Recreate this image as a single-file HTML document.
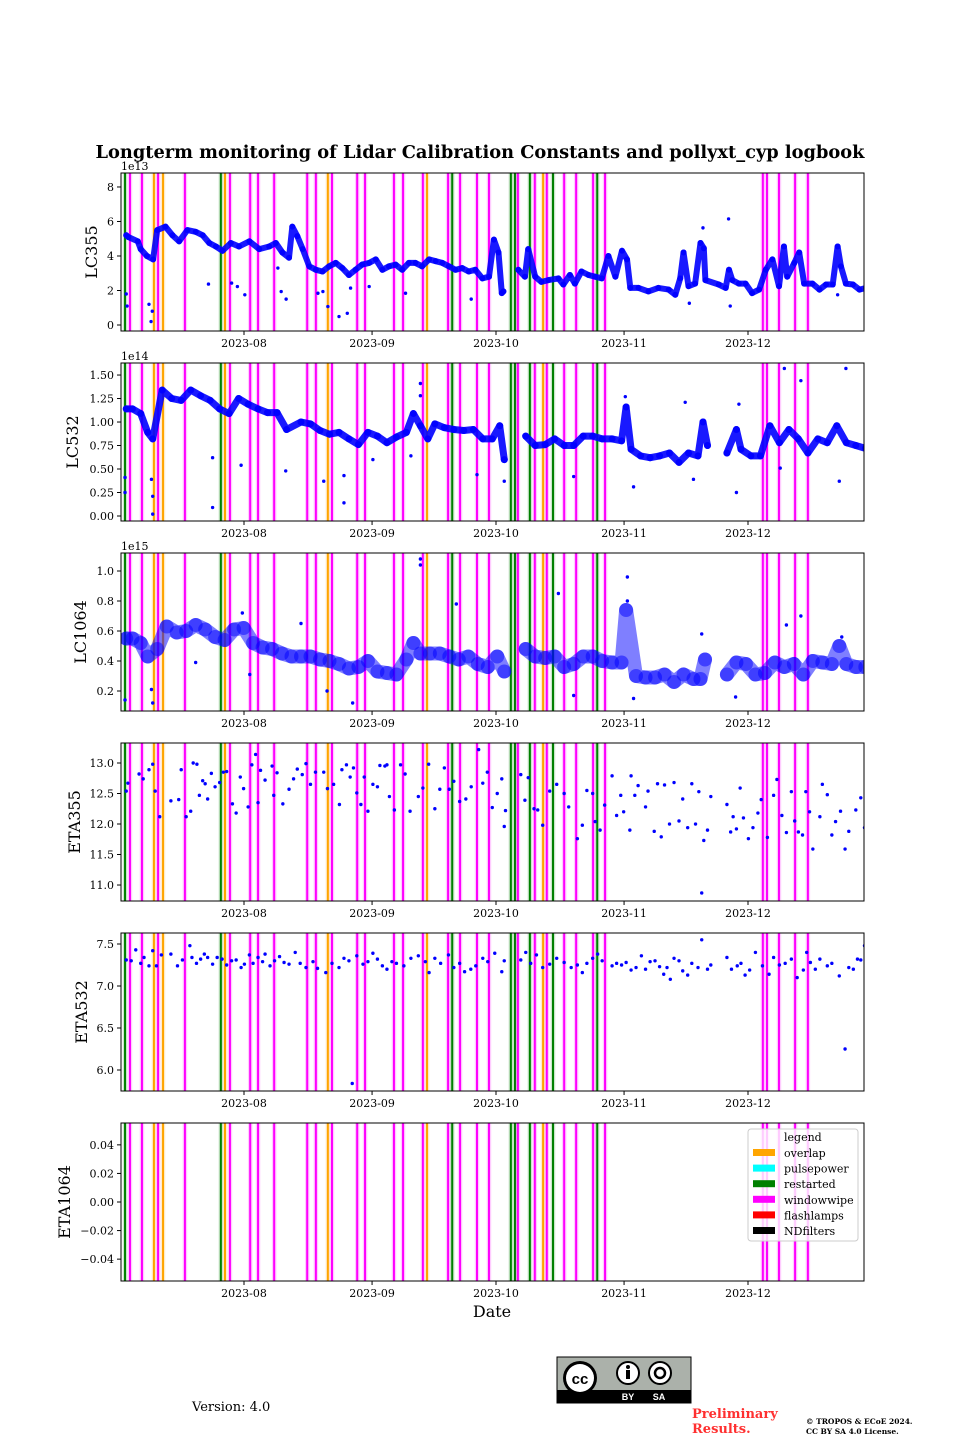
<!DOCTYPE html>
<html>
<head>
<meta charset="utf-8">
<style>
  html,body{margin:0;padding:0;background:#fff;}
  svg{display:block;}
  text{font-family:"DejaVu Serif","Liberation Serif",serif;}
</style>
</head>
<body>
<svg id="chart" width="960" height="1440" viewBox="0 0 960 1440" xmlns="http://www.w3.org/2000/svg">
  <text x="480" y="158" text-anchor="middle" font-size="17.8" font-weight="bold">Longterm monitoring of Lidar Calibration Constants and pollyxt_cyp logbook</text>
  <g id="panels"></g>
  <text x="492" y="1317" text-anchor="middle" font-size="16">Date</text>

  <g id="legend">
    <rect x="748" y="1129" width="110" height="112" rx="3" fill="#fff" fill-opacity="0.8" stroke="#ccc" stroke-width="1"/>
    <text x="784" y="1141" font-size="11">legend</text>
  </g>

  <g>
    <rect x="557" y="1357" width="134" height="46" fill="#abb1aa" stroke="#000" stroke-width="1"/>
    <rect x="557" y="1390" width="134" height="13" fill="#000"/>
    <circle cx="580" cy="1378" r="17" fill="#000"/>
    <circle cx="580" cy="1378" r="14" fill="#fff"/>
    <text x="580" y="1384" text-anchor="middle" font-size="15" font-weight="bold" style="font-family:'Liberation Sans',sans-serif">cc</text>
    <circle cx="628" cy="1373" r="11" fill="#fff" stroke="#000" stroke-width="2"/>
    <circle cx="628" cy="1367" r="2" fill="#000"/>
    <rect x="626" y="1370" width="4" height="9" fill="#000"/>
    <circle cx="660" cy="1373" r="11" fill="#fff" stroke="#000" stroke-width="2"/>
    <circle cx="660" cy="1373" r="5" fill="none" stroke="#000" stroke-width="2.5"/>
    <text x="628" y="1400" text-anchor="middle" font-size="9" fill="#fff" font-weight="bold" style="font-family:'Liberation Sans',sans-serif">BY</text>
    <text x="659" y="1400" text-anchor="middle" font-size="9" fill="#fff" font-weight="bold" style="font-family:'Liberation Sans',sans-serif">SA</text>
  </g>
  <text x="192" y="1411" font-size="13">Version: 4.0</text>
  <text x="692" y="1418" font-size="13" font-weight="bold" fill="#ff3030">Preliminary</text>
  <text x="692" y="1433" font-size="13" font-weight="bold" fill="#ff3030">Results.</text>
  <text x="806" y="1424" font-size="7.5" font-weight="bold">© TROPOS &amp; ECoE 2024.</text>
  <text x="806" y="1434" font-size="7.5" font-weight="bold">CC BY SA 4.0 License.</text>
</svg>
<script>
// ---------- data (days since 2023-07-01 00:00) ----------
const monthTickDays = [31, 62, 92, 123, 153];
const monthTickLabels = ["2023-08","2023-09","2023-10","2023-11","2023-12"];

const eventDays = [2.2,3.4,6.3,9.2,10.2,11.4,16.7,25.4,26.4,27.6,32.5,34.4,38.3,46.3,48.4,51.3,52.3,58.4,60.3,67.3,69.5,74.3,75.3,80.4,81.4,83.3,87.4,90.3,95.6,96.6,97.3,100.2,101.4,103.4,104.3,105.8,108.5,111.4,115.5,116.5,118.4,156.6,157.6,160.5,164.4,167.5];
const eventTypes = ["restarted","windowwipe","windowwipe","overlap","windowwipe","overlap","windowwipe","restarted","overlap","windowwipe","windowwipe","windowwipe","windowwipe","windowwipe","windowwipe","overlap","windowwipe","windowwipe","windowwipe","windowwipe","windowwipe","windowwipe","overlap","windowwipe","restarted","windowwipe","windowwipe","windowwipe","restarted","restarted","windowwipe","restarted","windowwipe","overlap","windowwipe","restarted","windowwipe","windowwipe","windowwipe","restarted","windowwipe","windowwipe","windowwipe","windowwipe","windowwipe","windowwipe"];

const legendNames = ["overlap","pulsepower","restarted","windowwipe","flashlamps","NDfilters"];
const legendColors = ["#FFA500","#00FFFF","#008000","#FF00FF","#FF0000","#000000"];

const lc355Days = [2.5,3,5.3,6,7.5,9,10,12,13.7,15.3,17.3,19.3,21,22.6,24.2,25.8,27.8,29.8,32.3,34.7,37.1,38.7,40.3,41.9,42.7,43.9,45.2,46.8,48.4,50,51.6,53.2,54.8,56.4,58,59.6,61.3,62.9,64.5,66.1,67.7,69.3,70.9,72.5,74.1,75.8,77.4,79,80.6,82.2,83.8,85.4,87,88.7,90.3,91.5,92.6,93.4,93.8,97.4,99,99.8,101.5,103,104.7,107.1,108.3,109.9,111.1,112.7,114.4,116,117.6,119.2,120.9,122.5,123.7,124.5,126.5,128.9,131.3,133.8,135.4,136.6,137.4,138.6,140.2,141.5,142.3,142.7,145.9,147.6,148.4,149.2,150.8,152.4,154,155.7,157.3,158.9,160.5,161.7,162.5,164.2,165.4,166.6,168.6,170.3,171.9,173.5,174.7,175.5,176.7,178.4,180,181.6];
const lc355Values = [5.2,5.1,4.85,4.4,4.0,3.8,5.5,5.7,5.2,4.85,5.5,5.4,5.2,4.75,4.55,4.3,4.75,4.55,4.85,4.4,4.55,4.75,4.2,3.9,5.7,5.15,4.4,3.4,3.2,3.1,3.4,3.6,3.3,2.9,3.2,3.5,3.6,3.8,3.2,3.4,3.5,3.2,3.6,3.6,3.4,3.8,3.7,3.6,3.4,3.2,3.3,3.1,3.2,2.7,2.8,4.95,4.2,1.85,1.95,3.2,2.8,4.4,2.8,2.5,2.6,2.7,2.35,2.9,2.4,3.1,2.9,2.8,2.7,4.0,2.8,4.3,3.8,2.15,2.15,1.95,2.15,2.05,1.75,2.7,4.2,2.25,2.4,4.75,4.45,2.6,2.35,2.15,3.2,2.6,2.4,2.4,1.85,2.05,3.2,3.8,2.25,4.55,2.8,3.6,4.2,2.4,2.4,2.05,2.35,2.35,4.55,3.4,2.4,2.35,2.05,2.15];
const lc355OutDays = [8.5,8,8.8,2.5,2.7,22.4,28,29.4,31.2,39.2,40,41.2,48.9,50.1,51.3,54,56,56.8,61.3,70.1,86,138.8,148.3,148.7,142.1,174.7];
const lc355OutValues = [0.2,1.2,0.8,1.8,1.1,2.37,2.43,2.23,1.75,3.3,1.94,1.5,1.84,1.94,1.07,0.49,0.68,2.14,2.23,1.84,1.5,1.26,6.15,1.1,5.63,1.75];

const lc532Days = [2.5,4,6,7.7,8.9,11.2,13.5,15.8,18.1,20.5,22.8,25.1,27.4,29.7,32,34.4,36.7,39,41.3,44.8,47.1,49.4,51.7,54,56.4,58.7,61,63.3,65.6,67.9,70.3,72,73.7,75.5,77.2,79.5,81.8,84.2,86.5,88.8,91.1,92.9,94,99.2,101.5,103.9,106.2,108.5,110.8,113.1,115.4,117.7,120.1,122.4,123.5,124.7,127,129.3,131.6,134,136.3,138.6,140.9,142.1,143.2,147.9,150.2,151.3,153.7,156,158.3,160.6,162.9,165.2,167.5,169.9,172.2,174.5,176.8,179.1,181.4];
const lc532Values = [1.14,1.14,1.09,0.89,0.82,1.34,1.25,1.23,1.34,1.28,1.23,1.14,1.09,1.25,1.19,1.14,1.10,1.10,0.92,1.0,0.98,0.91,0.87,0.89,0.82,0.76,0.89,0.85,0.78,0.84,0.89,1.09,0.96,0.82,0.98,0.94,0.92,0.91,0.92,0.82,0.82,0.96,0.60,0.85,0.75,0.76,0.82,0.75,0.75,0.85,0.85,0.82,0.82,0.80,1.16,0.71,0.64,0.62,0.64,0.67,0.57,0.67,0.64,1.0,0.75,0.67,0.92,0.71,0.64,0.64,0.96,0.78,0.92,0.82,0.67,0.82,0.78,0.96,0.78,0.75,0.72];
const lc532OutDays = [2.2,2.2,8.9,8.9,8.6,23.4,23.4,30.3,41.1,50.3,55.2,55.2,62.2,71.4,73.7,73.7,87.4,94,110.8,125.3,139.8,150.2,161.8,165.8,175.1,176.7,160.8,123.3,137.8,150.8];
const lc532OutValues = [0.41,0.25,0.21,0.02,0.39,0.62,0.09,0.54,0.48,0.37,0.14,0.43,0.60,0.64,1.41,1.28,0.44,0.37,0.42,0.31,0.39,0.25,1.57,1.44,0.37,1.57,0.51,1.27,1.21,1.19];

const lc1064Days = [2.5,4,6,7.7,10,12.3,14.7,17,19.3,21.6,24,26.3,28.6,30.9,33.2,35.5,37.8,40.2,42.5,44.8,47.1,49.4,51.7,54,56.4,58.7,61,63.3,65.6,67.9,70.3,72,73.7,76,78.4,80.7,83,85.3,87.6,90,92.3,94,99.2,101.5,103.9,106.2,108.5,110.8,113.1,115.4,117.7,120.1,122.4,123.5,125.9,128.2,130.5,132.8,135.1,137.4,139.8,141.5,142.6,147.9,150.2,152.5,154.8,157.1,159.5,161.8,164.1,166.4,168.7,171,173.3,175.1,176.8,179.1,181.4];
const lc1064Values = [0.55,0.55,0.52,0.43,0.48,0.63,0.59,0.60,0.64,0.61,0.56,0.54,0.61,0.62,0.52,0.49,0.48,0.45,0.43,0.43,0.43,0.41,0.40,0.38,0.35,0.36,0.40,0.33,0.32,0.31,0.41,0.52,0.45,0.45,0.45,0.43,0.41,0.43,0.38,0.36,0.43,0.33,0.48,0.43,0.42,0.43,0.36,0.38,0.43,0.43,0.40,0.39,0.39,0.74,0.30,0.29,0.29,0.31,0.26,0.31,0.28,0.28,0.41,0.31,0.39,0.38,0.31,0.32,0.39,0.36,0.38,0.31,0.40,0.39,0.38,0.50,0.38,0.36,0.36];
const lc1064OutDays = [2.2,8.9,8.6,73.7,73.7,57.3,123.8,123.8,125.3,150,82.4,107.1,110.8,141.8,175.7,165.8,162.3,19.3,51.1,32.4,44.8,30.6];
const lc1064OutValues = [0.14,0.12,0.21,1.08,1.04,0.12,0.96,0.80,0.15,0.16,0.78,0.85,0.17,0.58,0.56,0.70,0.64,0.39,0.20,0.31,0.65,0.72];

const eta355Days = [2.5,2.9,5.6,6.6,8,8.9,9.5,10.6,13.3,15.2,15.8,17,18.1,18.7,19.6,20.2,21,21.6,22.2,23.1,24,25.1,26,26.8,28.2,29.1,30.1,30.9,32,32.9,33.8,34.4,35,36.1,37.8,38.2,39,40.4,41.9,43,43.9,45.1,46,47.1,48.3,50.3,51.2,52.7,54.1,54.7,55.8,56.7,57.5,58.3,59.3,60.1,61,62.2,63.3,63.9,65.1,65.6,66.2,67.4,68.9,70,71.2,73.2,74.3,75.7,77.2,78.4,79.5,80.7,81.8,83.2,84.7,86,87.8,88.8,89.9,91.1,92.3,93.4,94,94.3,98,99,99.8,101.2,102.1,103.3,105,106.7,108.5,109.6,111.7,112.9,114,115.4,116,117.2,118.3,120.1,121.2,122.2,122.9,124.4,124.7,125.6,126.4,128.2,128.8,130.3,131.1,132,132.8,134,135.1,136.3,137.2,138.4,139.4,140.3,141.1,142.3,143.2,141.8,144,147.9,148.8,149.4,150.2,151.1,151.9,153.1,154.2,155.4,156.2,157.7,159.2,160,161.2,162.3,163.5,164.3,165.2,166.2,167,167.9,168.7,170.4,171,172.2,173.3,174.2,175.4,176.5,177.4,179.1,180.3,181.2];
const eta355Values = [12.54,12.67,12.82,12.74,12.89,12.98,12.54,12.12,12.38,12.40,12.89,12.12,12.21,13.0,12.98,12.47,12.71,12.66,12.41,12.83,12.61,12.68,12.85,12.86,12.33,12.18,12.77,12.58,12.28,12.97,13.14,12.35,12.88,12.72,12.95,12.47,12.84,12.33,12.57,12.74,12.90,12.81,12.99,12.65,12.85,12.85,12.58,12.65,12.32,12.89,12.97,12.77,12.92,12.51,12.32,12.77,12.21,12.65,12.61,12.96,12.95,12.97,12.45,12.23,12.97,12.82,12.21,12.45,12.59,12.98,12.25,12.57,12.92,12.57,12.70,12.37,12.41,12.61,13.22,12.67,12.85,12.27,12.50,12.74,11.96,12.22,12.81,12.39,12.76,12.25,12.23,11.98,12.54,12.65,12.50,12.28,11.76,11.98,12.55,12.50,12.04,11.90,12.31,12.79,12.14,12.47,12.20,11.90,12.79,12.47,12.63,12.28,12.54,11.88,12.66,11.79,12.64,12.0,12.68,12.05,12.41,11.94,12.66,12.0,12.53,11.73,11.90,10.87,12.45,12.32,11.87,12.12,11.92,12.59,12.10,11.76,11.94,12.18,12.40,11.78,12.47,12.73,12.14,11.86,12.53,12.05,11.87,11.82,12.53,12.20,11.59,12.12,12.65,12.48,11.82,12.04,12.21,11.59,11.88,12.23,12.43,11.94];

const eta532Days = [2.5,3.7,4.8,6,6.8,8,8.9,9.8,11,13.3,14.9,16.1,17.9,18.4,19.5,20.5,21.4,22.2,23.4,24.5,25.7,26.8,28,29.1,30.3,31.1,32.3,33.2,34.4,35.5,36.1,37.3,38.4,39.6,40.7,41.9,43.4,44.6,46,47.7,48.8,50.8,52.3,54,55.2,56.4,57.2,58.3,59.8,61,62.2,63.3,64.5,65.6,66.8,67.9,69.7,71.4,73.2,74.9,75.8,77.2,78.6,80.5,81.8,83.2,84.4,85.9,87.1,88.8,90,91.7,93.4,94,98,99.2,100.4,101.8,103.3,105,106.7,108.5,110.2,111.7,112.9,114,115.4,116.6,117.7,120.1,121.2,122.4,123.5,124.7,125.9,127.2,128.2,129.3,130.5,131.6,132.6,133.4,134.2,135.1,136.3,137.2,138.4,139.4,140.9,141.8,143.2,144,147.9,149,150.4,151.3,152.3,153.4,154.8,156.5,158.1,159.2,160.6,162,163.5,164.9,166.4,167.2,168.1,169.3,170.4,172.2,173.3,175.1,176.5,177.4,178.5,179.5,180.3,181.2];
const eta532Values = [7.31,7.30,7.43,7.27,7.34,7.24,7.42,7.24,7.37,7.38,7.24,7.31,7.48,7.34,7.27,7.32,7.38,7.34,7.26,7.34,7.32,7.25,7.30,7.31,7.22,7.26,7.37,7.27,7.34,7.29,7.38,7.24,7.30,7.35,7.28,7.26,7.40,7.27,7.22,7.29,7.21,7.16,7.27,7.22,7.33,7.30,5.84,7.36,7.26,7.29,7.39,7.32,7.24,7.20,7.29,7.27,7.24,7.33,7.36,7.29,7.16,7.33,7.27,7.37,7.22,7.27,7.17,7.20,7.24,7.33,7.29,7.39,7.17,7.30,7.31,7.40,7.27,7.37,7.22,7.26,7.33,7.28,7.22,7.25,7.16,7.27,7.33,7.38,7.30,7.24,7.27,7.25,7.28,7.19,7.22,7.36,7.20,7.29,7.30,7.23,7.14,7.22,7.08,7.33,7.30,7.18,7.13,7.27,7.22,7.55,7.20,7.25,7.34,7.20,7.24,7.27,7.13,7.19,7.40,7.24,7.14,7.34,7.25,7.27,7.32,7.10,7.19,7.40,7.28,7.20,7.32,7.24,7.27,7.12,6.25,7.22,7.20,7.32,7.31,7.48];

const eta1064Days = [];
const eta1064Values = [];

const lc355Ticks = [0,2,4,6,8];
const lc532Ticks = [0,0.25,0.5,0.75,1.0,1.25,1.5];
const lc1064Ticks = [0.2,0.4,0.6,0.8,1.0];
const eta355Ticks = [11.0,11.5,12.0,12.5,13.0];
const eta532Ticks = [6.0,6.5,7.0,7.5];
const eta1064Ticks = [-0.04,-0.02,0,0.02,0.04];

// ---------- layout ----------
const NS = "http://www.w3.org/2000/svg";
const X0 = 121, X1 = 864;
const dayMin = (X0 - 244) / 4.1311 + 31, dayMax = (X1 - 244) / 4.1311 + 31;
function xScale(d){ return X0 + (d - dayMin) / (dayMax - dayMin) * (X1 - X0); }
const colorOf = {overlap:"#FFA500", pulsepower:"#00FFFF", restarted:"#008000", windowwipe:"#FF00FF", flashlamps:"#FF0000", NDfilters:"#000000"};

const panels = [
  {name:"LC355", top:173, vmin:-0.348, vmax:8.81, ticks:lc355Ticks, fmt:v=>String(v), offset:"1e13", days:lc355Days, vals:lc355Values, odays:lc355OutDays, ovals:lc355OutValues, band:6, op:0.9, labelX:97},
  {name:"LC532", top:363, vmin:-0.0532, vmax:1.628, ticks:lc532Ticks, fmt:v=>v.toFixed(2), offset:"1e14", days:lc532Days, vals:lc532Values, odays:lc532OutDays, ovals:lc532OutValues, band:7, op:0.9, labelX:78},
  {name:"LC1064", top:553, vmin:0.0667, vmax:1.12, ticks:lc1064Ticks, fmt:v=>v.toFixed(1), offset:"1e15", days:lc1064Days, vals:lc1064Values, odays:lc1064OutDays, ovals:lc1064OutValues, band:14, op:0.5, labelX:86},
  {name:"ETA355", top:743, vmin:10.738, vmax:13.328, ticks:eta355Ticks, fmt:v=>v.toFixed(1), offset:"", days:[], vals:[], odays:eta355Days, ovals:eta355Values, labelX:80},
  {name:"ETA532", top:933, vmin:5.75, vmax:7.631, ticks:eta532Ticks, fmt:v=>v.toFixed(1), offset:"", days:[], vals:[], odays:eta532Days, ovals:eta532Values, labelX:87},
  {name:"ETA1064", top:1123, vmin:-0.0553, vmax:0.0553, ticks:eta1064Ticks, fmt:v=>(v<0?"\u2212":"")+Math.abs(v).toFixed(2), offset:"", days:[], vals:[], odays:eta1064Days, ovals:eta1064Values, labelX:70}
];
const PH = 158;

function mk(tag, attrs, parent){
  const e = document.createElementNS(NS, tag);
  for (const k in attrs) e.setAttribute(k, attrs[k]);
  if (parent) parent.appendChild(e);
  return e;
}

const root = document.getElementById("panels");
const defs = mk("defs", {}, root);

panels.forEach((p, pi) => {
  const slug = p.name.toLowerCase();
  const yScale = v => p.top + PH - (v - p.vmin) / (p.vmax - p.vmin) * PH;
  const g = mk("g", {}, root);
  
  

  const cp = mk("clipPath", {id:"clip"+pi}, defs);
  mk("rect", {x:X0, y:p.top, width:X1-X0, height:PH}, cp);

  const plot = mk("g", {"clip-path":"url(#clip"+pi+")"}, g);
  eventDays.forEach((d, i) => {
    const x = xScale(d);
    const c = colorOf[eventTypes[i]];
    const halo = mk("line", {x1:x, x2:x, y1:p.top, y2:p.top+PH, stroke:c, "stroke-width":4.5, "stroke-opacity":0.2}, plot);
    
    
    const ln = mk("line", {x1:x, x2:x, y1:p.top, y2:p.top+PH, stroke:c, "stroke-width":2}, plot);
    
    
  });
  // dense series drawn as band through the points (break at gaps)
  const n = Math.min(p.days.length, p.vals.length);
  let seg = [];
  const flush = () => {
    if (seg.length > 1){
      const pl = mk("polyline", {points:seg.join(" "), fill:"none", stroke:"#0000ff", "stroke-opacity":p.op, "stroke-width":p.band, "stroke-linejoin":"round", "stroke-linecap":"round"}, plot);
      
      
    }
    seg = [];
  };
  for (let i = 0; i < n; i++){
    if (i > 0 && p.days[i] - p.days[i-1] > 3.5) flush();
    seg.push(xScale(p.days[i]).toFixed(1) + "," + yScale(p.vals[i]).toFixed(1));
  }
  flush();
  for (let i = 0; i < n; i++){
    const e = mk("circle", {cx:xScale(p.days[i]), cy:yScale(p.vals[i]), r:p.band/2, fill:"#0000ff", "fill-opacity":p.op}, plot);
    
    
  }
  const m = Math.min(p.odays.length, p.ovals.length);
  for (let i = 0; i < m; i++){
    const c = mk("circle", {cx:xScale(p.odays[i]), cy:yScale(p.ovals[i]), r:1.7, fill:"#0000ff"}, plot);
    
    
  }
  mk("rect", {x:X0, y:p.top, width:X1-X0, height:PH, fill:"none", stroke:"#000", "stroke-width":1}, g);
  p.ticks.forEach(t => {
    const y = yScale(t);
    mk("line", {x1:X0-4, x2:X0, y1:y, y2:y, stroke:"#000", "stroke-width":1}, g);
    const tx = mk("text", {x:X0-7, y:y+4, "text-anchor":"end", "font-size":11}, g);
    tx.textContent = p.fmt(t);
    
    
  });
  monthTickDays.forEach((d, i) => {
    const x = xScale(d);
    mk("line", {x1:x, x2:x, y1:p.top+PH, y2:p.top+PH+4, stroke:"#000", "stroke-width":1}, g);
    const tx = mk("text", {x:x, y:p.top+PH+16, "text-anchor":"middle", "font-size":11}, g);
    tx.textContent = monthTickLabels[i];
    
    
  });
  if (p.offset){
    const ot = mk("text", {x:X0, y:p.top-3, "font-size":11}, g);
    ot.textContent = p.offset;
    
    
  }
  const cy = p.top + PH/2;
  const yl = mk("text", {x:p.labelX, y:cy, "text-anchor":"middle", "font-size":16, transform:"rotate(-90 "+p.labelX+" "+cy+")"}, g);
  yl.textContent = p.name;
  
  
});

const leg = document.getElementById("legend");
legendNames.forEach((nm, i) => {
  const y = 1153 + i * 15.6;
  const sw = mk("rect", {x:753, y:y-4, width:22, height:7, fill:legendColors[i]}, leg);
  
  
  const t = mk("text", {x:784, y:y+4, "font-size":11}, leg);
  t.textContent = nm;
  
  
});
</script>
</body>
</html>
